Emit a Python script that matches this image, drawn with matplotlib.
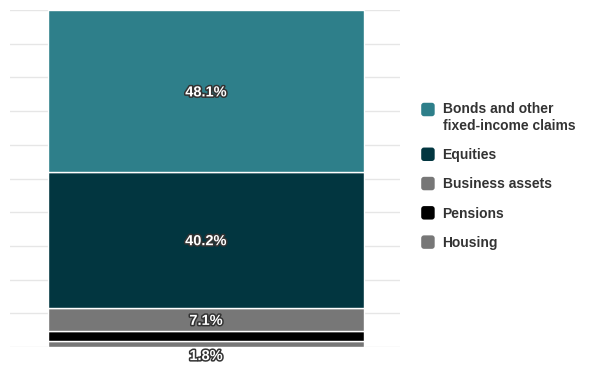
import matplotlib
matplotlib.use("Agg")
import matplotlib.pyplot as plt
import matplotlib.patheffects as pe
from matplotlib.patches import FancyBboxPatch
from matplotlib.legend_handler import HandlerPatch

# data, bottom -> top
categories = ["Housing", "Pensions", "Business assets", "Equities",
              "Bonds and other\nfixed-income claims"]
shares = [1.8, 2.8, 7.1, 40.2, 48.1]
labels = ["1.8%", None, "7.1%", "40.2%", "48.1%"]
colors = ["#777777", "#000000", "#777777", "#023640", "#2e7f8a"]

plt.rcParams.update({"font.family": ["Liberation Sans", "DejaVu Sans"]})
fig = plt.figure(figsize=(6.0, 3.77), dpi=100)
ax = fig.add_axes([10/600, 30/377, 390/600, 337/377])

stroke = [pe.withStroke(linewidth=2.2, foreground="#333333")]
bottom = 0
bars = []
for cat, v, lab, c in zip(categories, shares, labels, colors):
    b = ax.bar(0, v, width=0.81, bottom=bottom, color=c, edgecolor="white",
               linewidth=1, zorder=3)
    bars.append(b[0])
    if lab is not None:
        if v < 3:
            # small slice: label sits under the bar
            ax.annotate(lab, (0, bottom), xytext=(0, -1.5), textcoords="offset points",
                        ha="center", va="top", fontsize=10.5, fontweight="bold",
                        color="white", zorder=5, path_effects=stroke)
        else:
            ax.text(0, bottom + v/2 - 0.4, lab, ha="center", va="center", fontsize=10.5,
                    fontweight="bold", color="white", zorder=5, path_effects=stroke)
    bottom += v

ax.set_xlim(-0.5026, 0.4974)
ax.set_ylim(0, 100)
ax.set_yticks(range(0, 101, 10))
ax.set_xticks([])
ax.tick_params(left=False, labelleft=False)
ax.grid(axis="y", color="#e6e6e6", linewidth=1, zorder=0)
for s in ax.spines.values():
    s.set_visible(False)

multi = {id(bars[-1])}


def square(legend, orig_handle, xdescent, ydescent, width, height, fontsize):
    side = 0.97 * fontsize
    x0 = -xdescent + (width - side) / 2
    y0 = -ydescent + (height - side) / 2
    if id(orig_handle) in multi:
        y0 += 0.62 * fontsize  # align with first text line
    return FancyBboxPatch((x0, y0), side, side,
                          boxstyle="round,pad=0,rounding_size=2")


handles = bars[::-1]
leg = fig.legend(handles, categories[::-1],
                 loc="upper left", bbox_to_anchor=(421/600, 1 - 102/377),
                 frameon=False, prop={"weight": "bold", "size": 10},
                 handlelength=1.0, handleheight=1.0, handletextpad=0.55,
                 labelspacing=1.1, borderaxespad=0, borderpad=0,
                 handler_map={type(bars[0]): HandlerPatch(patch_func=square)})
for t in leg.get_texts():
    t.set_color("#333333")
    t.set_linespacing(1.25)
for h in leg.legend_handles:
    h.set_linewidth(0)

fig.savefig("out.png", dpi=100)
